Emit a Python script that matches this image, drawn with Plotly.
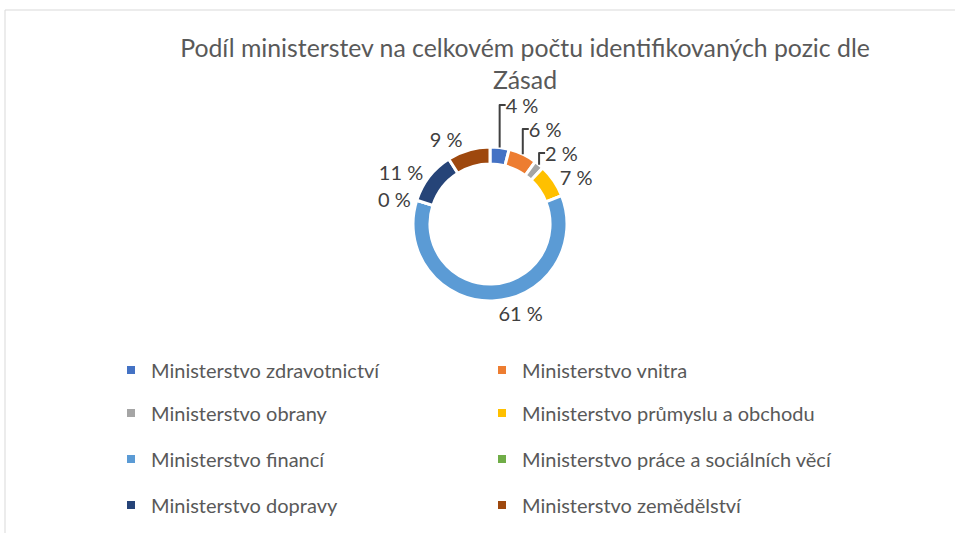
import plotly.graph_objects as go

categories = [
    "Ministerstvo zdravotnictví",
    "Ministerstvo vnitra",
    "Ministerstvo obrany",
    "Ministerstvo průmyslu a obchodu",
    "Ministerstvo financí",
    "Ministerstvo práce a sociálních věcí",
    "Ministerstvo dopravy",
    "Ministerstvo zemědělství",
]
shares = [4, 6, 2, 7, 61, 0, 11, 9]
colors = ["#4472C4", "#ED7D31", "#A5A5A5", "#FFC000",
          "#5B9BD5", "#70AD47", "#264478", "#9E480E"]
title_text = "Podíl ministerstev na celkovém počtu identifikovaných pozic dle<br>Zásad"

W, H = 957, 533
FONT = "Lato"

fig = go.Figure()

cx, cy, r = 490, 224, 77
fig.add_trace(go.Pie(
    labels=categories,
    values=shares,
    sort=False,
    direction="clockwise",
    rotation=0,
    hole=0.78,
    marker=dict(colors=colors, line=dict(color="white", width=3)),
    texttemplate="%{value} %",
    textposition="outside",
    textfont=dict(family=FONT, size=20, color="#404040"),
    showlegend=False,
    hoverinfo="label+value",
    domain=dict(x=[(cx - r) / W, (cx + r) / W],
                y=[(H - cy - r) / H, (H - cy + r) / H]),
))

# legend entries (two per row, four rows)
row_y = [370, 413, 459, 505]
legend_names = ["legend", "legend2", "legend3", "legend4"]
for i, (name, col) in enumerate(zip(categories, colors)):
    fig.add_trace(go.Scatter(
        x=[None], y=[None], mode="markers", name=name,
        marker=dict(symbol="square", size=8, color=col),
        legend=legend_names[i // 2], showlegend=True,
    ))

layout_legends = {}
for k, ln in enumerate(legend_names):
    layout_legends[ln] = dict(
        orientation="h", x=111 / W, xanchor="left",
        y=1 - row_y[k] / H, yanchor="middle",
        entrywidth=326, entrywidthmode="pixels",
        font=dict(family=FONT, size=20, color="#595959"),
        bgcolor="rgba(0,0,0,0)",
    )

fig.update_layout(
    width=W, height=H, autosize=False,
    margin=dict(l=0, r=0, t=0, b=0, autoexpand=False),
    paper_bgcolor="white", plot_bgcolor="white",
    title=dict(text=title_text, x=525 / W, xanchor="center",
               y=1 - 57 / H, yanchor="top",
               font=dict(family=FONT, size=24.8, color="#595959")),
    xaxis=dict(visible=False), yaxis=dict(visible=False),
    shapes=[
        dict(type="line", xref="paper", yref="paper",
             x0=5 / W, x1=955 / W, y0=1 - 10 / H, y1=1 - 10 / H,
             line=dict(color="#D9D9D9", width=1)),
        dict(type="line", xref="paper", yref="paper",
             x0=5 / W, x1=5 / W, y0=1 - 10 / H, y1=0,
             line=dict(color="#D9D9D9", width=1)),
    ],
    **layout_legends,
)

fig.write_html("out.html",
               config={"displayModeBar": False},
               post_script="document.body.style.margin='0px';")
